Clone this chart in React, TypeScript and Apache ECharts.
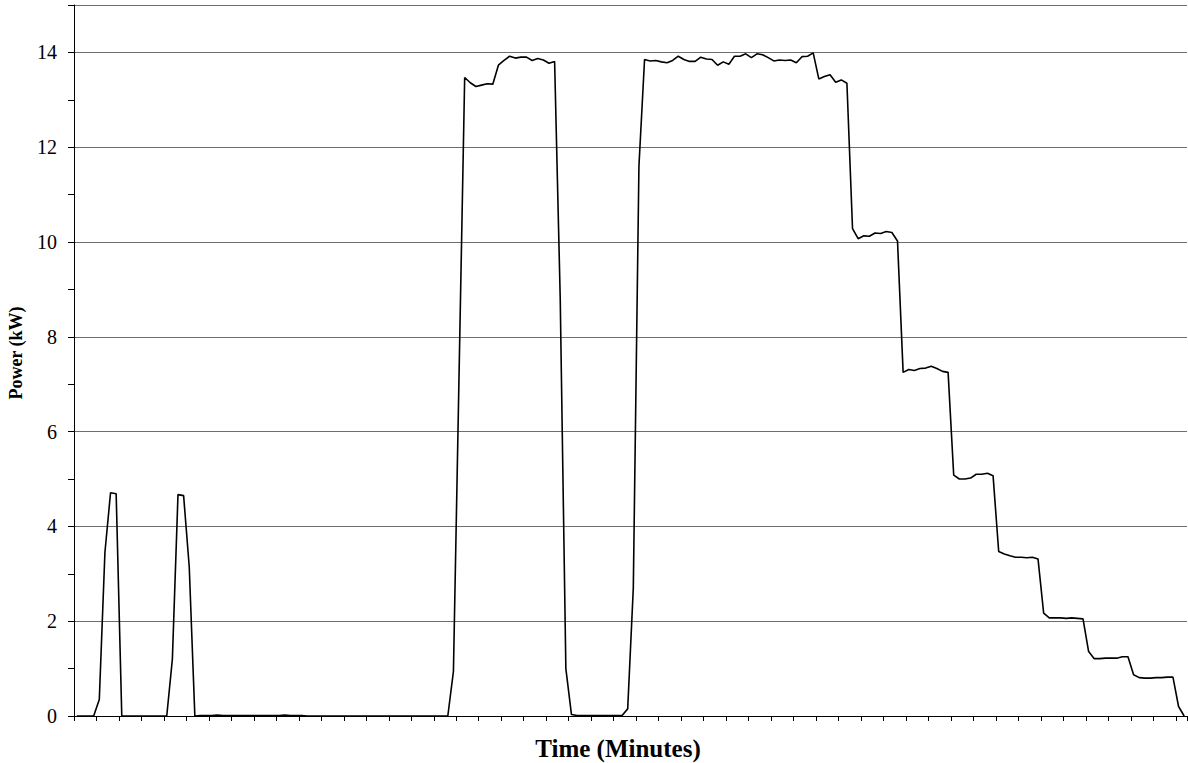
import React, { useEffect, useRef } from "react";
import * as echarts from "echarts";

// Power readings (kW), one per minute
const power: number[] = [
  0, 0, 0, 0, 0.35, 3.45, 4.71, 4.69, 0, 0,
  0, 0, 0, 0, 0, 0, 0, 1.2, 4.67, 4.65,
  3.15, 0, 0.01, 0.01, 0.01, 0.02, 0.01, 0.01, 0.01, 0.01,
  0.01, 0.01, 0.01, 0.01, 0.01, 0.01, 0.01, 0.02, 0.01, 0.01,
  0.01, 0, 0, 0, 0, 0, 0, 0, 0, 0,
  0, 0, 0, 0, 0, 0, 0, 0, 0, 0,
  0, 0, 0, 0, 0, 0, 0, 0.94, 7.2, 13.47,
  13.36, 13.28, 13.31, 13.34, 13.33, 13.73, 13.83, 13.92, 13.88, 13.9,
  13.9, 13.83, 13.87, 13.84, 13.77, 13.81, 8.8, 1.0, 0.03, 0.01,
  0.01, 0.01, 0.01, 0.01, 0.01, 0.01, 0.01, 0.01, 0.15, 2.7,
  11.6, 13.85, 13.82, 13.83, 13.8, 13.78, 13.83, 13.92, 13.85, 13.81,
  13.81, 13.9, 13.86, 13.85, 13.73, 13.8, 13.75, 13.92, 13.92, 13.97,
  13.89, 13.97, 13.95, 13.89, 13.82, 13.84, 13.83, 13.84, 13.78, 13.91,
  13.92, 13.99, 13.44, 13.49, 13.53, 13.37, 13.42, 13.35, 10.28, 10.07,
  10.13, 10.12, 10.19, 10.18, 10.22, 10.2, 10.02, 7.25, 7.31, 7.29,
  7.33, 7.34, 7.38, 7.33, 7.27, 7.25, 5.08, 5.0, 5.0, 5.02,
  5.1, 5.1, 5.12, 5.07, 3.47, 3.42, 3.38, 3.35, 3.35, 3.34,
  3.35, 3.31, 2.17, 2.07, 2.07, 2.07, 2.06, 2.07, 2.06, 2.05,
  1.36, 1.21, 1.21, 1.22, 1.22, 1.22, 1.25, 1.25, 0.87, 0.81,
  0.8, 0.8, 0.81, 0.81, 0.82, 0.82, 0.2, 0,
];

// Minute categories
const minutes: string[] = power.map((_, i) => String(i));

// Axis settings
const yMin = 0;
const yMax = 15;
const yLabelStep = 2;
const xTickEvery = 4;

const xTitle = "Time (Minutes)";
const yTitle = "Power (kW)";

const FONT = '"Liberation Serif", "Times New Roman", serif';

export default function App() {
  const ref = useRef<HTMLDivElement>(null);

  useEffect(() => {
    if (!ref.current) return;
    const chart = echarts.init(ref.current, undefined, { renderer: "svg" });
    chart.setOption({
      animation: false,
      backgroundColor: "#ffffff",
      grid: { left: 74, right: 1, top: 5, bottom: 47, containLabel: false },
      xAxis: [
        {
          type: "category",
          data: minutes,
          boundaryGap: true,
          axisLine: { show: true, lineStyle: { color: "#000", width: 1 } },
          axisTick: {
            show: true,
            interval: xTickEvery - 1,
            length: 5,
            lineStyle: { color: "#000", width: 1 },
          },
          axisLabel: { show: false },
          splitLine: { show: false },
        },
        {
          type: "category",
          data: minutes,
          position: "top",
          boundaryGap: true,
          axisLine: { show: true, lineStyle: { color: "#000", width: 1 } },
          axisTick: { show: false },
          axisLabel: { show: false },
          splitLine: { show: false },
        },
      ],
      yAxis: [
        {
          type: "value",
          min: yMin,
          max: yMax,
          interval: 1,
          position: "left",
          axisLine: { show: true, lineStyle: { color: "#000", width: 1 } },
          axisTick: { show: true, length: 6, lineStyle: { color: "#000", width: 1 } },
          axisLabel: {
            show: true,
            margin: 17,
            color: "#000",
            fontFamily: FONT,
            fontSize: 20,
            formatter: (v: number) => (v % yLabelStep === 0 && v < yMax ? String(v) : ""),
          },
          splitLine: { show: false },
        },
        {
          type: "value",
          min: yMin,
          max: yMax,
          interval: yLabelStep,
          position: "right",
          axisLine: { show: false },
          axisTick: { show: false },
          axisLabel: { show: false },
          splitLine: { show: true, lineStyle: { color: "#6e6e6e", width: 1 } },
        },
      ],
      graphic: [
        {
          type: "text",
          x: 618,
          y: 748,
          style: {
            text: xTitle,
            fontFamily: FONT,
            fontWeight: "bold",
            fontSize: 25,
            fill: "#000",
            align: "center",
            verticalAlign: "middle",
          },
        },
        {
          type: "text",
          x: 16,
          y: 353,
          rotation: Math.PI / 2,
          style: {
            text: yTitle,
            fontFamily: FONT,
            fontWeight: "bold",
            fontSize: 18,
            fill: "#000",
            align: "center",
            verticalAlign: "middle",
          },
        },
      ],
      series: [
        {
          type: "line",
          data: power,
          xAxisIndex: 0,
          yAxisIndex: 0,
          symbol: "none",
          lineStyle: { color: "#000", width: 1.6 },
          z: 5,
        },
      ],
    });
    return () => chart.dispose();
  }, []);

  return (
    <div
      ref={ref}
      style={{ position: "fixed", left: 0, top: 0, width: 1188, height: 763, background: "#fff" }}
    />
  );
}
